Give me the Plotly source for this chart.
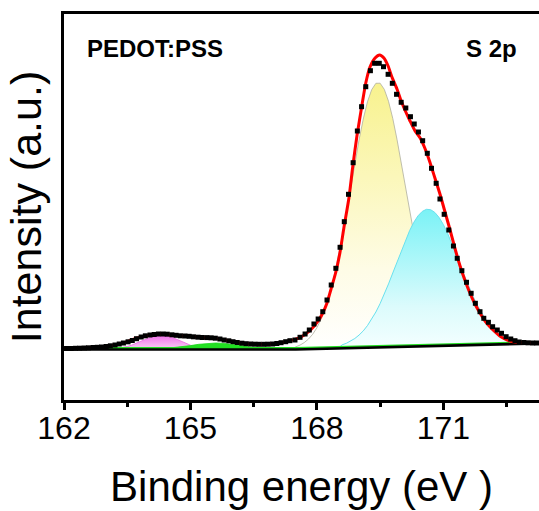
import plotly.graph_objects as go

# ---------------- data ----------------
# Measured S 2p spectrum (binding energy in eV, intensity in a.u.)
data_x = [162.06, 162.17, 162.27, 162.37, 162.48, 162.58, 162.69, 162.79, 162.89, 163.00,
          163.10, 163.21, 163.31, 163.41, 163.52, 163.62, 163.72, 163.83, 163.93, 164.04,
          164.14, 164.24, 164.35, 164.45, 164.56, 164.66, 164.76, 164.87, 164.97, 165.07,
          165.18, 165.28, 165.39, 165.49, 165.59, 165.70, 165.80, 165.91, 166.01, 166.11,
          166.22, 166.32, 166.43, 166.53, 166.63, 166.74, 166.84, 166.95, 167.05, 167.15,
          167.26, 167.36, 167.48, 167.60, 167.72, 167.82, 167.93, 168.03, 168.14, 168.24,
          168.34, 168.45, 168.55, 168.65, 168.75, 168.86, 168.96, 169.06, 169.16, 169.27,
          169.37, 169.48, 169.58, 169.69, 169.79, 169.89, 170.00, 170.11, 170.22, 170.31,
          170.41, 170.51, 170.62, 170.72, 170.83, 170.92, 171.02, 171.13, 171.24, 171.33,
          171.44, 171.55, 171.66, 171.76, 171.87, 171.96, 172.07, 172.17, 172.28, 172.38,
          172.49, 172.60, 172.70, 172.80, 172.91, 173.01, 173.12, 173.22]
data_y = [51.5, 51.5, 51.7, 51.8, 52.0, 52.2, 52.5, 52.7, 53.0, 53.5,
          54.2, 55.0, 56.0, 57.0, 58.2, 59.5, 61.3, 63.0, 64.2, 65.0,
          65.5, 66.0, 66.0, 65.8, 65.2, 64.7, 64.2, 64.0, 63.7, 63.2,
          62.8, 62.5, 62.4, 62.2, 61.8, 61.0, 60.0, 59.2, 58.3, 57.5,
          56.8, 56.3, 56.0, 55.8, 55.7, 55.7, 55.8, 56.0, 56.5, 57.3,
          58.3, 59.3, 60.0, 62.7, 66.0, 70.0, 76.0, 81.0, 88.3, 100.0,
          115.0, 131.7, 152.7, 178.3, 205.7, 237.3, 269.0, 293.3, 313.3, 329.3,
          336.7, 336.7, 333.3, 325.7, 316.7, 305.7, 297.7, 292.0, 283.3, 276.0,
          268.0, 259.3, 246.7, 231.7, 216.7, 201.0, 185.7, 170.0, 154.0, 141.7,
          129.3, 117.7, 106.7, 96.7, 88.3, 81.7, 77.7, 73.3, 70.0, 66.7,
          63.3, 61.0, 59.3, 58.0, 57.5, 57.2, 57.0, 57.0]

# Fitted envelope (red)
fit_x = [162.00, 162.85, 163.33, 163.80, 164.28, 164.75, 165.23, 165.70, 166.18, 166.65,
         167.01, 167.36, 167.60, 167.84, 168.03, 168.14, 168.24, 168.33, 168.45, 168.55,
         168.64, 168.76, 168.85, 168.95, 169.07, 169.16, 169.26, 169.38, 169.49, 169.59,
         169.69, 169.78, 169.90, 170.00, 170.11, 170.21, 170.33, 170.45, 170.56, 170.68,
         170.80, 170.92, 171.04, 171.16, 171.28, 171.39, 171.51, 171.63, 171.75, 171.87,
         171.99, 172.11, 172.23, 172.34, 172.46, 172.58, 172.70, 172.82, 173.06, 173.29]
fit_y = [51.5, 52.8, 56.0, 62.7, 66.0, 64.3, 62.7, 61.0, 57.0, 55.8,
         56.2, 59.3, 62.5, 69.5, 79.0, 87.0, 97.0, 110.0, 128.0, 148.0,
         172.0, 202.0, 233.0, 264.0, 295.0, 317.0, 333.0, 342.0, 345.0, 342.0,
         334.0, 323.0, 311.0, 299.0, 288.0, 279.0, 269.0, 262.0, 252.0, 238.0,
         222.0, 206.0, 188.0, 170.0, 151.0, 135.0, 120.0, 107.0, 96.0, 87.0,
         79.0, 73.0, 68.0, 64.0, 61.0, 59.0, 58.0, 57.5, 57.2, 57.2]

# Background (black) and the green base line along it
bg_x = [162.0, 167.5, 173.3]
bg_y = [50.5, 50.5, 56.6]
gbase_x = [163.0, 167.5, 173.3]
gbase_y = [52.0, 52.0, 58.1]

# Component peaks (values include the background they sit on)
pink_x = [163.1, 163.2, 163.3, 163.4, 163.5, 163.6, 163.7, 163.8, 163.9, 164.0, 164.1, 164.2, 164.3,
          164.4, 164.5, 164.6, 164.7, 164.8, 164.9, 165.0, 165.1, 165.2, 165.3, 165.4, 165.5]
pink_y = [50.5, 51.2, 51.7, 52.5, 53.5, 54.8, 56.5, 58.3, 60.3, 62.1, 63.6, 64.6, 65.0,
          64.6, 63.6, 62.1, 60.3, 58.3, 56.5, 54.8, 53.5, 52.5, 51.7, 51.2, 50.5]

green_x = [164.2, 164.4, 164.6, 164.8, 165.0, 165.2, 165.4, 165.6, 165.8, 166.0, 166.2, 166.4,
           166.6, 166.8, 167.0, 167.2]
green_y = [50.5, 51.3, 52.1, 53.1, 54.4, 55.7, 56.6, 57.0, 56.6, 55.7, 54.4, 53.1,
           52.1, 51.3, 50.9, 50.5]

yellow_x = [167.4, 167.5, 167.6, 167.7, 167.8, 167.9, 168.0, 168.1, 168.2, 168.3,
            168.4, 168.5, 168.6, 168.7, 168.8, 168.9, 169.0, 169.1, 169.2, 169.3,
            169.4, 169.5, 169.6, 169.7, 169.8, 169.9, 170.0, 170.1, 170.2, 170.3,
            170.4, 170.5, 170.6, 170.7, 170.8, 170.9, 171.0, 171.1, 171.2, 171.3,
            171.4, 171.5]
yellow_y = [50.5, 53.2, 54.9, 57.4, 60.9, 65.7, 72.2, 80.8, 91.7, 105.3,
            121.8, 141.1, 162.9, 186.6, 211.4, 236.2, 259.9, 280.9, 298.2, 310.3,
            316.7, 316.8, 310.6, 298.7, 281.6, 260.8, 237.3, 212.7, 188.1, 164.6,
            143.1, 124.1, 107.8, 94.4, 83.7, 75.3, 69.0, 64.4, 61.1, 58.8,
            57.3, 54.7]

cyan_x = [168.5, 168.6, 168.7, 168.8, 168.9, 169.0, 169.1, 169.2, 169.3, 169.4,
          169.5, 169.6, 169.7, 169.8, 169.9, 170.0, 170.1, 170.2, 170.3, 170.4,
          170.5, 170.6, 170.7, 170.8, 170.9, 171.0, 171.1, 171.2, 171.3, 171.4,
          171.5, 171.6, 171.7, 171.8, 171.9, 172.0, 172.1, 172.2, 172.3, 172.4,
          172.5, 172.6, 172.7, 172.8, 172.9, 173.0]
cyan_y = [51.5, 55.2, 56.7, 58.8, 61.5, 64.9, 69.1, 74.4, 80.7, 88.0,
          96.4, 105.8, 116.1, 127.0, 138.1, 149.2, 159.8, 169.4, 177.7, 184.2,
          188.6, 190.7, 190.3, 187.5, 182.5, 175.5, 166.8, 156.9, 146.3, 135.3,
          124.4, 114.0, 104.2, 95.4, 87.7, 80.9, 75.3, 70.7, 67.0, 64.1,
          61.8, 60.2, 59.0, 58.1, 57.6, 56.3]

x_ticks = [162, 165, 168, 171]
x_ticktext = ["162", "165", "168", "171"]

FONT = "Liberation Sans, Arial, sans-serif"

fig = go.Figure()

fig.add_trace(go.Scatter(
    x=pink_x, y=pink_y, mode="lines", fill="toself",
    line=dict(color="rgb(235,100,225)", width=0.8),
    fillgradient=dict(type="vertical",
                      colorscale=[[0, "#f9d2f5"], [1, "#f06ce8"]]),
    hoverinfo="skip"))
fig.add_trace(go.Scatter(
    x=green_x, y=green_y, mode="lines", fill="toself",
    line=dict(color="#18d818", width=0.8), fillcolor="#22e022",
    hoverinfo="skip"))
fig.add_trace(go.Scatter(
    x=yellow_x, y=yellow_y, mode="lines", fill="toself",
    line=dict(color="rgb(175,175,160)", width=0.8),
    fillgradient=dict(type="vertical",
                      colorscale=[[0, "#ffffff"], [0.3, "#fefce6"], [1, "#f8f28e"]]),
    hoverinfo="skip"))
fig.add_trace(go.Scatter(
    x=cyan_x, y=cyan_y, mode="lines", fill="toself",
    line=dict(color="rgb(105,225,238)", width=1.0),
    fillgradient=dict(type="vertical",
                      colorscale=[[0, "#f4ffff"], [0.3, "#dcfbfc"], [1, "#7af2f6"]]),
    hoverinfo="skip"))
fig.add_trace(go.Scatter(
    x=gbase_x, y=gbase_y, mode="lines",
    line=dict(color="#22dd22", width=1.8), hoverinfo="skip"))
fig.add_trace(go.Scatter(
    x=bg_x, y=bg_y, mode="lines",
    line=dict(color="black", width=2.6), hoverinfo="skip"))
fig.add_trace(go.Scatter(
    x=fit_x, y=fit_y, mode="lines",
    line=dict(color="#ff0000", width=3, shape="spline", smoothing=0.6),
    hoverinfo="skip"))
fig.add_trace(go.Scatter(
    x=data_x, y=data_y, mode="markers",
    marker=dict(symbol="square", size=5, color="black", line=dict(width=0)),
    hoverinfo="skip"))

fig.add_annotation(x=162.5, y=352, xref="x", yref="y", text="PEDOT:PSS",
                   showarrow=False, xanchor="left", yanchor="middle",
                   font=dict(family=FONT, size=24, color="black", weight="bold"))
fig.add_annotation(x=172.79, y=352, xref="x", yref="y", text="S 2p",
                   showarrow=False, xanchor="right", yanchor="middle",
                   font=dict(family=FONT, size=24, color="black", weight="bold"))

fig.update_layout(
    width=539, height=511,
    margin=dict(l=64, r=0, t=14, b=111),
    paper_bgcolor="white", plot_bgcolor="white",
    showlegend=False,
    font=dict(family=FONT, color="black"),
    xaxis=dict(
        range=[162, 173.27],
        tickmode="array", tickvals=x_ticks, ticktext=x_ticktext,
        ticks="outside", ticklen=7, tickwidth=2.5, tickcolor="black",
        ticklabelstandoff=-9,
        minor=dict(ticks="outside", ticklen=4, tickwidth=2.5, tickcolor="black",
                   tick0=162, dtick=1.5, showgrid=False),
        showline=True, linewidth=3, linecolor="black", mirror=True,
        showgrid=False, zeroline=False,
        tickfont=dict(family=FONT, size=32, color="black"),
        title=dict(text="Binding energy (eV )", standoff=27,
                   font=dict(family=FONT, size=42, color="black")),
    ),
    yaxis=dict(
        range=[0, 386],
        showticklabels=False, ticks="",
        showline=True, linewidth=3, linecolor="black", mirror=False,
        showgrid=False, zeroline=False,
        title=dict(text="Intensity (a.u.)", standoff=6,
                   font=dict(family=FONT, size=43, color="black")),
    ),
)

fig.write_html("out.html", config={"displayModeBar": False})

# remove the browser's default page margin so the figure fills the window exactly
with open("out.html", "r", encoding="utf-8") as f:
    html = f.read()
html = html.replace("<head>", "<head><style>html,body{margin:0;padding:0;overflow:hidden;}</style>", 1)
with open("out.html", "w", encoding="utf-8") as f:
    f.write(html)
